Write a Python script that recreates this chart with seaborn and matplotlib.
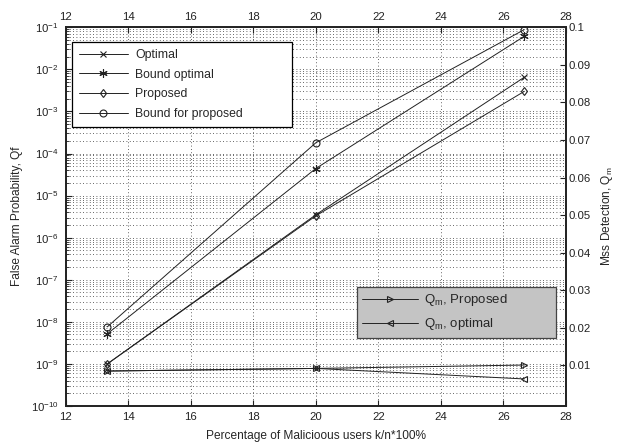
import matplotlib
matplotlib.use('Agg')
import matplotlib.pyplot as plt
import numpy as np
import pandas as pd
import seaborn as sns
from matplotlib.ticker import LogLocator, NullFormatter, FixedLocator

# Data
x_pct = [13.33, 20.0, 26.67]
pf_optimal = [1.0e-9, 3.5e-6, 6.5e-3]
pf_bound_optimal = [5.2e-9, 4.4e-5, 6.1e-2]
pf_proposed = [1.0e-9, 3.3e-6, 3.0e-3]
pf_bound_proposed = [7.6e-9, 1.8e-4, 8.8e-2]
qm_proposed = [0.0085, 0.0092, 0.0101]
qm_optimal = [0.0085, 0.0092, 0.0064]

x_ticks = [12, 14, 16, 18, 20, 22, 24, 26, 28]
qm_ticks = [0.01, 0.02, 0.03, 0.04, 0.05, 0.06, 0.07, 0.08, 0.09, 0.1]

sns.set_style('white')
plt.rcParams['font.family'] = ['Liberation Sans', 'DejaVu Sans']
plt.rcParams['mathtext.fontset'] = 'custom'
plt.rcParams['mathtext.rm'] = 'Liberation Sans'
plt.rcParams['mathtext.it'] = 'Liberation Sans'
plt.rcParams['mathtext.default'] = 'regular'

fig = plt.figure(figsize=(6.26, 4.44), dpi=100)
ax = fig.add_axes([0.105, 0.0856, 0.799, 0.853])

ink = '#222222'
line_kw = dict(color=ink, linewidth=0.7, markeredgecolor=ink, markeredgewidth=0.8)

df_pf = pd.DataFrame({
    'x': x_pct * 4,
    'pf': pf_optimal + pf_bound_optimal + pf_proposed + pf_bound_proposed,
    'series': (['Optimal'] * 3 + ['Bound optimal'] * 3 + ['Proposed'] * 3
               + ['Bound for proposed'] * 3),
})

# marker, face colour, size
markers = {'Optimal': ('x', 'none', 4),
           'Bound optimal': ((6, 2, 0), 'none', 6),
           'Proposed': ('d', 'none', 4.5),
           'Bound for proposed': ('o', 'none', 5)}

for name, (mk, fc, ms) in markers.items():
    sub = df_pf[df_pf['series'] == name]
    sns.lineplot(data=sub, x='x', y='pf', ax=ax, marker=mk, markerfacecolor=fc,
                 markersize=ms, label=name, **line_kw)

ax.set_yscale('log')
ax.set_xlim(12, 28)
ax.set_ylim(1e-10, 1e-1)
ax.xaxis.set_major_locator(FixedLocator(x_ticks))
ax.yaxis.set_major_locator(LogLocator(base=10, numticks=20))
ax.yaxis.set_minor_locator(LogLocator(base=10, subs=np.arange(2, 10), numticks=20))
ax.yaxis.set_minor_formatter(NullFormatter())
ax.tick_params(axis='both', which='both', direction='in', labelsize=8.2, colors=ink)
ax.tick_params(axis='x', top=True, labeltop=True, pad=4)
ax.tick_params(axis='y', which='major', length=4, left=True, pad=5)
ax.tick_params(axis='y', which='minor', length=2, left=True)
ax.tick_params(axis='x', which='major', length=4, bottom=True)
ax.xaxis.grid(True, which='major', linestyle=(0, (1, 3)), color='#333333', linewidth=0.6)
ax.yaxis.grid(True, which='both', linestyle=(0, (1, 3)), color='#333333', linewidth=0.6)
for s in ax.spines.values():
    s.set_color('black')
    s.set_linewidth(1.2)

ax.set_xlabel('Percentage of Malicioous users k/n*100%', fontsize=8.6, labelpad=6)
ax.set_ylabel('False Alarm Probability, Qf', fontsize=8.6, labelpad=6)

leg1 = ax.legend(loc='upper left', bbox_to_anchor=(0.0126, 0.5, 0.44, 0.46), mode='expand',
                 borderaxespad=0, frameon=True, fancybox=False, edgecolor='black',
                 facecolor='white', framealpha=1, fontsize=8.8, handlelength=4.0,
                 handletextpad=0.6, borderpad=0.55, labelspacing=0.62, numpoints=1)
leg1.get_frame().set_linewidth(0.9)

ax2 = ax.twinx()
df_qm = pd.DataFrame({'x': x_pct, 'prop': qm_proposed, 'opt': qm_optimal})
sns.lineplot(data=df_qm, x='x', y='prop', ax=ax2, marker='>', markerfacecolor='none',
             markersize=4, label='$Q_m$, Proposed', **line_kw)
sns.lineplot(data=df_qm, x='x', y='opt', ax=ax2, marker='<', markerfacecolor='none',
             markersize=4, label='$Q_m$, optimal', **line_kw)
ax2.set_ylim(-0.0008, 0.1)
ax2.set_xlim(12, 28)
ax2.set_xlabel('')
ax2.yaxis.set_major_locator(FixedLocator(qm_ticks))
ax2.set_yticklabels([f'{t:g}' for t in qm_ticks])
ax2.tick_params(axis='y', direction='in', length=4, labelsize=8.2, colors=ink, pad=2)
ax2.set_ylabel('Mss Detection, $Q_m$', fontsize=8.6, labelpad=6)
for s in ax2.spines.values():
    s.set_linewidth(1.2)

leg2 = ax2.legend(loc='upper left', bbox_to_anchor=(0.5826, 0.05, 0.398, 0.264), mode='expand',
                  borderaxespad=0, frameon=True, fancybox=False, edgecolor='#444444',
                  facecolor='#c4c4c4', framealpha=1, fontsize=9.5, handlelength=4.2,
                  handletextpad=0.5, borderpad=0.4, labelspacing=0.6, numpoints=1)
leg2.get_frame().set_linewidth(0.9)

fig.savefig('out.png', dpi=100)
